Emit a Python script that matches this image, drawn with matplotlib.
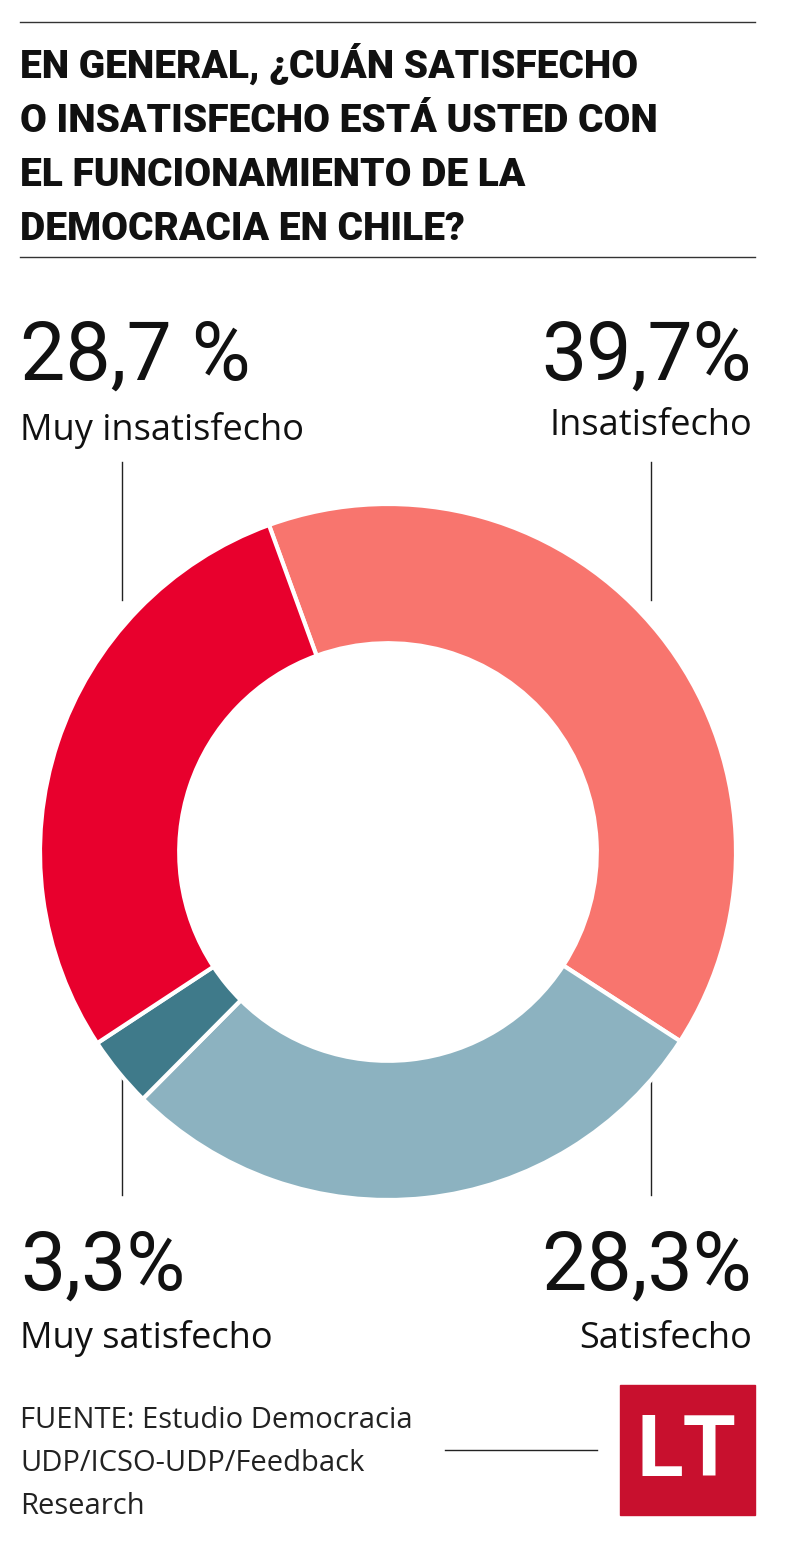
import matplotlib
matplotlib.use("Agg")
import matplotlib.pyplot as plt
from matplotlib.patches import Rectangle

categories = ["Insatisfecho", "Satisfecho", "Muy satisfecho", "Muy insatisfecho"]
values = [39.7, 28.3, 3.3, 28.7]
value_labels = ["39,7%", "28,3%", "3,3%", "28,7 %"]
colors = ["#F8756E", "#8CB2C0", "#3F7A8A", "#E8002D"]

W, H = 790, 1547
fig = plt.figure(figsize=(W/100, H/100), dpi=100)
fig.patch.set_facecolor("white")
ax = fig.add_axes([0, 0, 1, 1])
ax.set_xlim(0, W); ax.set_ylim(H, 0); ax.axis("off")

# title rules
ax.plot([20, 755], [22, 22], color="#333", lw=1)
ax.plot([20, 755], [257, 257], color="#333", lw=1)
title = ["EN GENERAL, ¿CUÁN SATISFECHO", "O INSATISFECHO ESTÁ USTED CON",
         "EL FUNCIONAMIENTO DE LA", "DEMOCRACIA EN CHILE?"]
for i, t in enumerate(title):
    ax.text(20, 78 + i*54, t, fontsize=28, family="Roboto", weight="black",
            va="baseline", ha="left", color="#111")

# donut
cx, cy, r = 388, 852, 348
pax = fig.add_axes([(cx-r)/W, (H-cy-r)/H, 2*r/W, 2*r/H])
pax.pie(values, colors=colors, startangle=110, counterclock=False,
        wedgeprops=dict(width=0.4, edgecolor="white", linewidth=3))
pax.set_xlim(-1, 1); pax.set_ylim(-1, 1); pax.axis("off")

pos = {3: (20, "left", 380, 440), 0: (752, "right", 380, 435),
       2: (20, "left", 1290, 1348), 1: (752, "right", 1290, 1348)}
for i, (x, ha, yv, yl) in pos.items():
    ax.text(x, yv, value_labels[i], fontsize=58, family="Roboto", weight="normal",
            ha=ha, va="baseline", color="#111")
    ax.text(x, yl, categories[i], fontsize=26, family="Open Sans",
            ha=ha, va="baseline", color="#111")

for x in (122, 651):
    ax.plot([x, x], [462, 600], color="#222", lw=1)
    ax.plot([x, x], [1075, 1195], color="#222", lw=1)

# footer
for i, t in enumerate(["FUENTE: Estudio Democracia", "UDP/ICSO-UDP/Feedback", "Research"]):
    ax.text(20, 1428 + i*43, t, fontsize=21, family="Open Sans", ha="left",
            va="baseline", color="#222")
ax.plot([445, 597], [1450, 1450], color="#222", lw=1)
ax.add_patch(Rectangle((620, 1385), 135, 130, color="#C8102E"))
ax.text(687, 1452, "LT", fontsize=62, family="Roboto", weight="bold",
        color="white", ha="center", va="center")

fig.savefig("out.png", dpi=100, facecolor="white")
